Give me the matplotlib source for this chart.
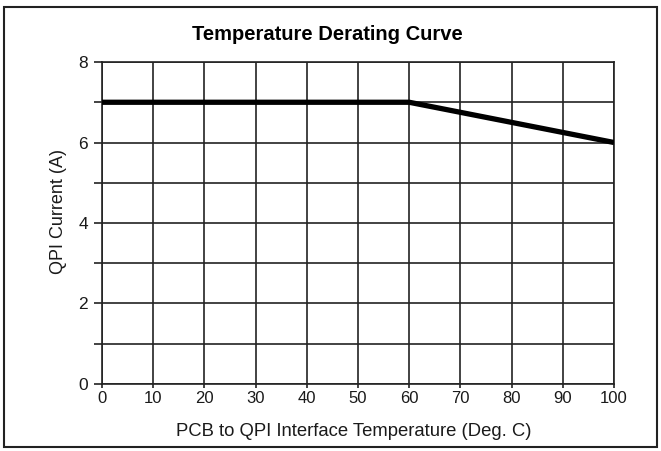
import matplotlib
matplotlib.use("Agg")
from matplotlib import pyplot as plt
from matplotlib.patches import Rectangle

plt.rcParams['font.family'] = ['Liberation Sans', 'DejaVu Sans']

temp = [0, 60, 100]
current = [7, 7, 6]
x_ticks = [0, 10, 20, 30, 40, 50, 60, 70, 80, 90, 100]
y_ticks = [0, 2, 4, 6, 8]
y_minor = [1, 3, 5, 7]

fig = plt.figure(figsize=(6.61, 4.51), dpi=100)
ax = fig.add_axes([0.1543, 0.1486, 0.7746, 0.7139])

ax.plot(temp, current, color='black', linewidth=3.8, solid_capstyle='butt', zorder=3)

ax.set_xlim(0, 100)
ax.set_ylim(0, 8)
ax.set_xticks(x_ticks)
ax.set_yticks(y_ticks)
ax.set_yticks(y_minor, minor=True)
ax.grid(True, which='both', color='#222222', linewidth=1.2)
for s in ax.spines.values():
    s.set_color('#222222')
    s.set_linewidth(1.2)
ax.tick_params(axis='y', which='both', direction='out', length=6, width=1.2, color='#222222',
               labelsize=12.5, pad=4, labelcolor='#1a1a1a')
ax.tick_params(axis='x', direction='out', length=3, width=1.2, color='#222222',
               labelsize=12, pad=2, labelcolor='#1a1a1a')

# title centred on the figure, y label a little above the axes centre
ax.set_title('Temperature Derating Curve', fontsize=14.5, fontweight='bold', pad=16, x=0.441)
ax.set_xlabel('PCB to QPI Interface Temperature (Deg. C)', fontsize=13.3, labelpad=12, color='#1a1a1a')
ax.set_ylabel('QPI Current (A)', fontsize=13, labelpad=8, color='#1a1a1a')
ax.xaxis.label.set_x(0.492)
ax.yaxis.label.set_y(0.537)

fig.patches.append(Rectangle((0.006, 0.009), 0.988, 0.976, transform=fig.transFigure,
                             fill=False, edgecolor='#222222', linewidth=1.5))

fig.savefig('out.png', dpi=100)
